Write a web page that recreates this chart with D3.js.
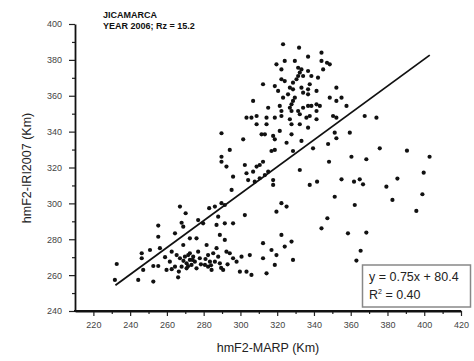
<!DOCTYPE html>
<html>
<head>
<meta charset="utf-8">
<script src="https://cdn.jsdelivr.net/npm/d3@7"></script>
<style>
  html, body { margin: 0; padding: 0; background: #fff; }
  svg { display: block; font-family: "Liberation Sans", Arial, sans-serif; }
</style>
</head>
<body>
<svg id="chart" width="474" height="361"></svg>
<script>
// ---- Data ----
const titleLines = ["JICAMARCA", "YEAR 2006; Rz = 15.2"];
const xLabel = "hmF2-MARP (Km)";
const yLabel = "hmF2-IRI2007 (Km)";
const xTicks = [220, 240, 260, 280, 300, 320, 340, 360, 380, 400, 420];
const yTicks = [240, 260, 280, 300, 320, 340, 360, 380, 400];
const fitSlope = 0.75;
const fitIntercept = 80.4;
const fitRange = [232, 403];
const fitText = "y = 0.75x + 80.4";
const r2Text = "0.40";

// hmF2-MARP (x) and hmF2-IRI2007 (y), km
const marp = [
267.1,270.2,255.3,255.3,268.0,268.9,264.4,277.0,279.7,283.0,286.1,289.7,291.5,287.9,287.0,291.5,296.0,302.4,295.2,288.8,
291.5,272.5,276.1,268.9,281.6,246.3,246.3,250.8,256.2,262.6,232.7,231.7,244.4,252.6,266.1,252.6,255.3,259.8,262.6,264.4,
261.6,265.3,267.1,269.8,271.6,272.5,270.7,273.4,275.2,270.7,276.1,268.0,272.5,274.3,277.0,282.4,280.7,282.4,284.3,285.2,
287.0,287.9,286.1,288.8,290.6,292.4,294.2,296.0,297.9,300.6,299.7,303.3,283.4,277.9,247.1,
269.0,271.5,274.0,278.5,281.0,284.0,266.5,259.0,289.5,293.0,
294.2,289.7,289.7,302.4,308.8,310.5,312.3,318.7,292.4,296.0,303.3,306.9,304.2,307.8,310.5,315.1,317.8,317.8,313.3,322.3,
325.1,319.6,312.3,322.3,327.8,324.1,316.9,319.6,305.1,312.3,328.6,306.0,314.2,318.7,289.7,
323.2,331.9,344.1,336.8,324.1,329.6,319.6,344.1,347.1,348.6,345.0,322.3,331.4,333.2,332.3,331.4,334.1,336.8,338.6,342.2,
330.5,322.3,324.1,328.6,337.7,333.2,326.9,328.6,312.3,318.7,320.5,323.2,325.9,329.6,328.6,334.1,336.8,336.8,341.4,352.2,
348.6,352.2,355.0,357.7,306.9,315.1,321.4,322.3,322.3,326.9,327.8,327.8,331.4,334.1,336.8,338.6,341.4,343.2,341.4,337.7,
341.4,335.9,332.3,326.9,318.7,314.2,308.8,303.3,306.0,308.8,314.2,327.8,332.3,336.8,327.8,321.4,311.5,313.3,317.8,318.7,
325.1,333.2,301.5,316.9,328.6,351.3,350.4,352.2,359.5,367.6,374.0,352.2,
339.5,347.7,360.4,368.5,375.8,390.6,402.9,399.7,348.2,332.3,337.7,341.7,355.0,361.8,364.9,366.7,379.4,385.4,399.0,351.3,
362.2,382.7,395.7,347.3,344.1,358.5,368.5,365.4,363.1
];
const iri = [
298.2,294.5,287.6,281.4,289.2,287.0,283.3,290.7,288.9,297.3,298.2,300.1,299.1,292.6,288.0,288.9,288.9,293.5,307.5,282.4,
279.6,280.5,280.5,276.8,276.8,272.2,269.4,274.0,275.0,273.1,266.2,257.3,257.3,256.4,258.8,265.1,265.1,262.9,263.3,264.7,
267.5,271.2,269.4,270.3,271.2,268.5,266.6,265.7,267.5,263.8,263.8,264.7,272.2,270.3,273.1,271.2,265.7,264.7,262.9,272.2,
275.0,270.3,267.5,266.6,262.9,273.1,272.2,269.4,267.5,270.3,261.9,261.9,267.5,269.4,262.9,
268.0,265.0,268.5,266.0,269.0,265.5,262.0,270.0,264.0,266.0,
329.8,326.0,323.2,321.4,320.5,321.4,323.2,329.8,320.5,314.9,316.8,317.7,313.0,312.1,314.0,317.7,313.0,310.3,315.8,300.1,
298.2,295.4,277.8,282.4,278.7,275.9,274.0,271.2,271.2,269.4,268.5,260.1,261.0,265.7,339.1,
388.7,386.8,384.0,381.8,379.4,379.4,377.5,379.4,378.4,377.5,374.7,374.7,375.6,374.7,372.9,371.0,371.0,373.8,371.0,370.1,
369.2,369.2,368.2,367.3,366.4,364.5,364.5,363.6,366.4,365.4,362.7,358.9,360.8,358.9,357.1,361.7,360.8,363.6,362.7,364.5,
358.9,357.1,358.9,354.3,357.1,353.3,354.3,351.5,348.7,353.3,355.2,351.5,351.5,353.3,354.3,354.3,355.2,354.3,351.5,348.7,
346.9,347.8,349.7,346.9,347.8,347.8,348.7,347.8,347.8,344.1,344.1,344.1,344.1,342.2,338.5,340.4,338.5,338.5,337.6,335.7,
333.8,334.8,335.7,329.2,329.2,339.4,348.7,347.8,339.4,348.7,347.8,336.3,
330.7,333.1,326.0,324.6,330.7,329.4,326.0,317.1,323.2,318.6,310.3,312.1,313.4,312.1,313.4,310.6,309.3,313.8,305.1,303.7,
299.1,301.9,295.8,291.7,286.1,283.3,283.7,273.6,268.1
];

// ---- Chart ----
const svg = d3.select("#chart");
const x = d3.scaleLinear().domain([210, 420]).range([75, 461]);
const y = d3.scaleLinear().domain([240, 400]).range([311, 24]);

// Points
svg.append("g").selectAll("circle")
  .data(d3.zip(marp, iri))
  .join("circle")
  .attr("cx", d => x(d[0]))
  .attr("cy", d => y(d[1]))
  .attr("r", 2.1)
  .attr("fill", "#111");

// Regression line
svg.append("line")
  .attr("x1", x(fitRange[0])).attr("y1", y(fitSlope * fitRange[0] + fitIntercept))
  .attr("x2", x(fitRange[1])).attr("y2", y(fitSlope * fitRange[1] + fitIntercept))
  .attr("stroke", "#111").attr("stroke-width", 1.8);

// Minor ticks
const xMinor = d3.range(230, 420, 20);
const yMinor = d3.range(250, 400, 20);
svg.append("g").attr("transform", "translate(0,311)")
  .call(d3.axisBottom(x).tickValues(xMinor).tickSize(3).tickSizeOuter(0).tickFormat(""))
  .call(g => g.select(".domain").remove())
  .call(g => g.selectAll("line").attr("stroke", "#222").attr("stroke-width", 1.2));
svg.append("g").attr("transform", "translate(75,0)")
  .call(d3.axisLeft(y).tickValues(yMinor).tickSize(3).tickSizeOuter(0).tickFormat(""))
  .call(g => g.select(".domain").remove())
  .call(g => g.selectAll("line").attr("stroke", "#222").attr("stroke-width", 1.2));

// Major axes
const xAxis = svg.append("g").attr("transform", "translate(0,311)")
  .call(d3.axisBottom(x).tickValues(xTicks).tickSize(5).tickSizeOuter(0).tickPadding(6));
const yAxis = svg.append("g").attr("transform", "translate(75,0)")
  .call(d3.axisLeft(y).tickValues(yTicks).tickSize(6).tickSizeOuter(0).tickPadding(7));
[xAxis, yAxis].forEach(g => {
  g.select(".domain").attr("stroke", "#111").attr("stroke-width", 1.8);
  g.selectAll(".tick line").attr("stroke", "#222").attr("stroke-width", 1.2);
  g.selectAll(".tick text").attr("fill", "#444").style("font-size", "9px")
    .style("font-family", "'Liberation Sans', Arial, sans-serif");
});
svg.append("line").attr("x1", 74).attr("x2", 461).attr("y1", 311).attr("y2", 311)
  .attr("stroke", "#111").attr("stroke-width", 1.8);

// Title
svg.append("g").selectAll("text").data(titleLines).join("text")
  .attr("x", 103).attr("y", (d, i) => 18 + i * 11)
  .attr("font-size", 9).attr("font-weight", "bold").attr("fill", "#111")
  .text(d => d);

// Axis labels
svg.append("text").attr("x", 268).attr("y", 352)
  .attr("text-anchor", "middle").attr("font-size", 12.5).attr("fill", "#222")
  .text(xLabel);
svg.append("text").attr("transform", "translate(31,168) rotate(-90)")
  .attr("text-anchor", "middle").attr("font-size", 12.5).attr("fill", "#222")
  .text(yLabel);

// Fit legend box
svg.append("rect").attr("x", 362.5).attr("y", 265).attr("width", 108).attr("height", 42)
  .attr("fill", "#fff").attr("stroke", "#888").attr("stroke-width", 1.5);
svg.append("text").attr("x", 369).attr("y", 281).attr("font-size", 12.5).attr("fill", "#222")
  .text(fitText);
const r2 = svg.append("text").attr("x", 369).attr("y", 299).attr("font-size", 12.5).attr("fill", "#222");
r2.append("tspan").text("R");
r2.append("tspan").attr("font-size", 7).attr("dy", -5).text("2");
r2.append("tspan").attr("dy", 5).text(" = " + r2Text);
</script>
</body>
</html>
